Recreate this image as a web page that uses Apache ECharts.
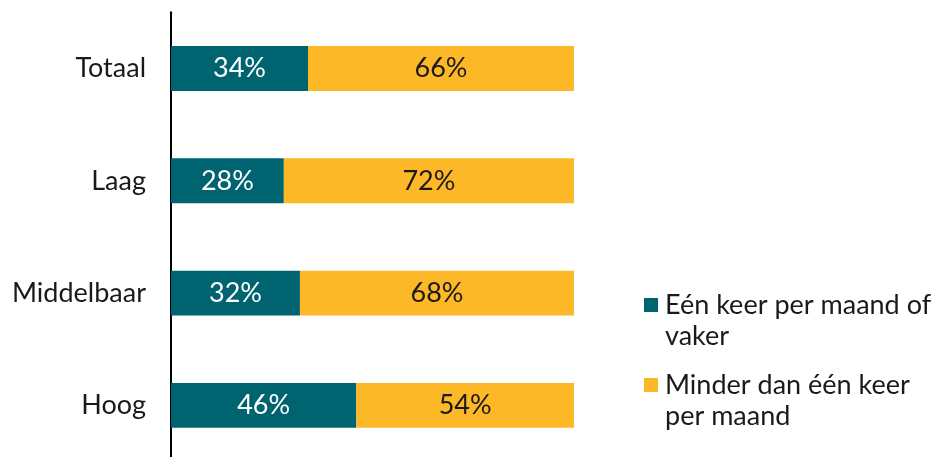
<!DOCTYPE html>
<html><head><meta charset="utf-8">
<script src="https://cdn.jsdelivr.net/npm/echarts@6/dist/echarts.min.js"></script>
<style>html,body{margin:0;padding:0;background:#fff}#c{width:932px;height:457px}</style>
</head><body><div id="c"></div>
<script>
const categories = ['Totaal', 'Laag', 'Middelbaar', 'Hoog'];
const seriesNames = ['Eén keer per maand of\nvaker', 'Minder dan één keer\nper maand'];
const vaker = [34, 28, 32, 46];
const minder = [66, 72, 68, 54];
const font = 'Lato';
const fs = 27;
const chart = echarts.init(document.getElementById('c'), null, {renderer: 'canvas'});
function legendFor(name, top) {
  return {
    orient: 'vertical', left: 639, top: top,
    itemWidth: 14, itemHeight: 14,
    icon: 'rect',
    formatter: n => '\n' + n,
    textStyle: {fontFamily: font, fontSize: fs, color: '#1a1a1a', lineHeight: 31, padding: [0, 0, 0, 2]},
    data: [name]
  };
}
chart.setOption({
  animation: false,
  grid: {left: 171, right: 358, top: 12.35, height: 449.2, containLabel: false, outerBoundsMode: 'none'},
  xAxis: {type: 'value', min: 0, max: 100, show: false},
  yAxis: {
    type: 'category', data: categories, inverse: true,
    axisLine: {show: true, lineStyle: {color: '#000', width: 2}},
    axisTick: {show: false},
    axisLabel: {fontFamily: font, fontSize: fs, color: '#1a1a1a', margin: 25}
  },
  legend: [legendFor(seriesNames[0], 253.5), legendFor(seriesNames[1], 333.5)],
  series: [
    {name: seriesNames[0], type: 'bar', stack: 't', data: vaker, barWidth: '40%',
     itemStyle: {color: '#006370'},
     label: {show: true, position: 'inside', formatter: '{c}%', color: '#fff', fontFamily: font, fontSize: fs}},
    {name: seriesNames[1], type: 'bar', stack: 't', data: minder, barWidth: '40%',
     itemStyle: {color: '#FDB827'},
     label: {show: true, position: 'inside', formatter: '{c}%', color: '#1a1a1a', fontFamily: font, fontSize: fs}}
  ]
});
</script></body></html>
